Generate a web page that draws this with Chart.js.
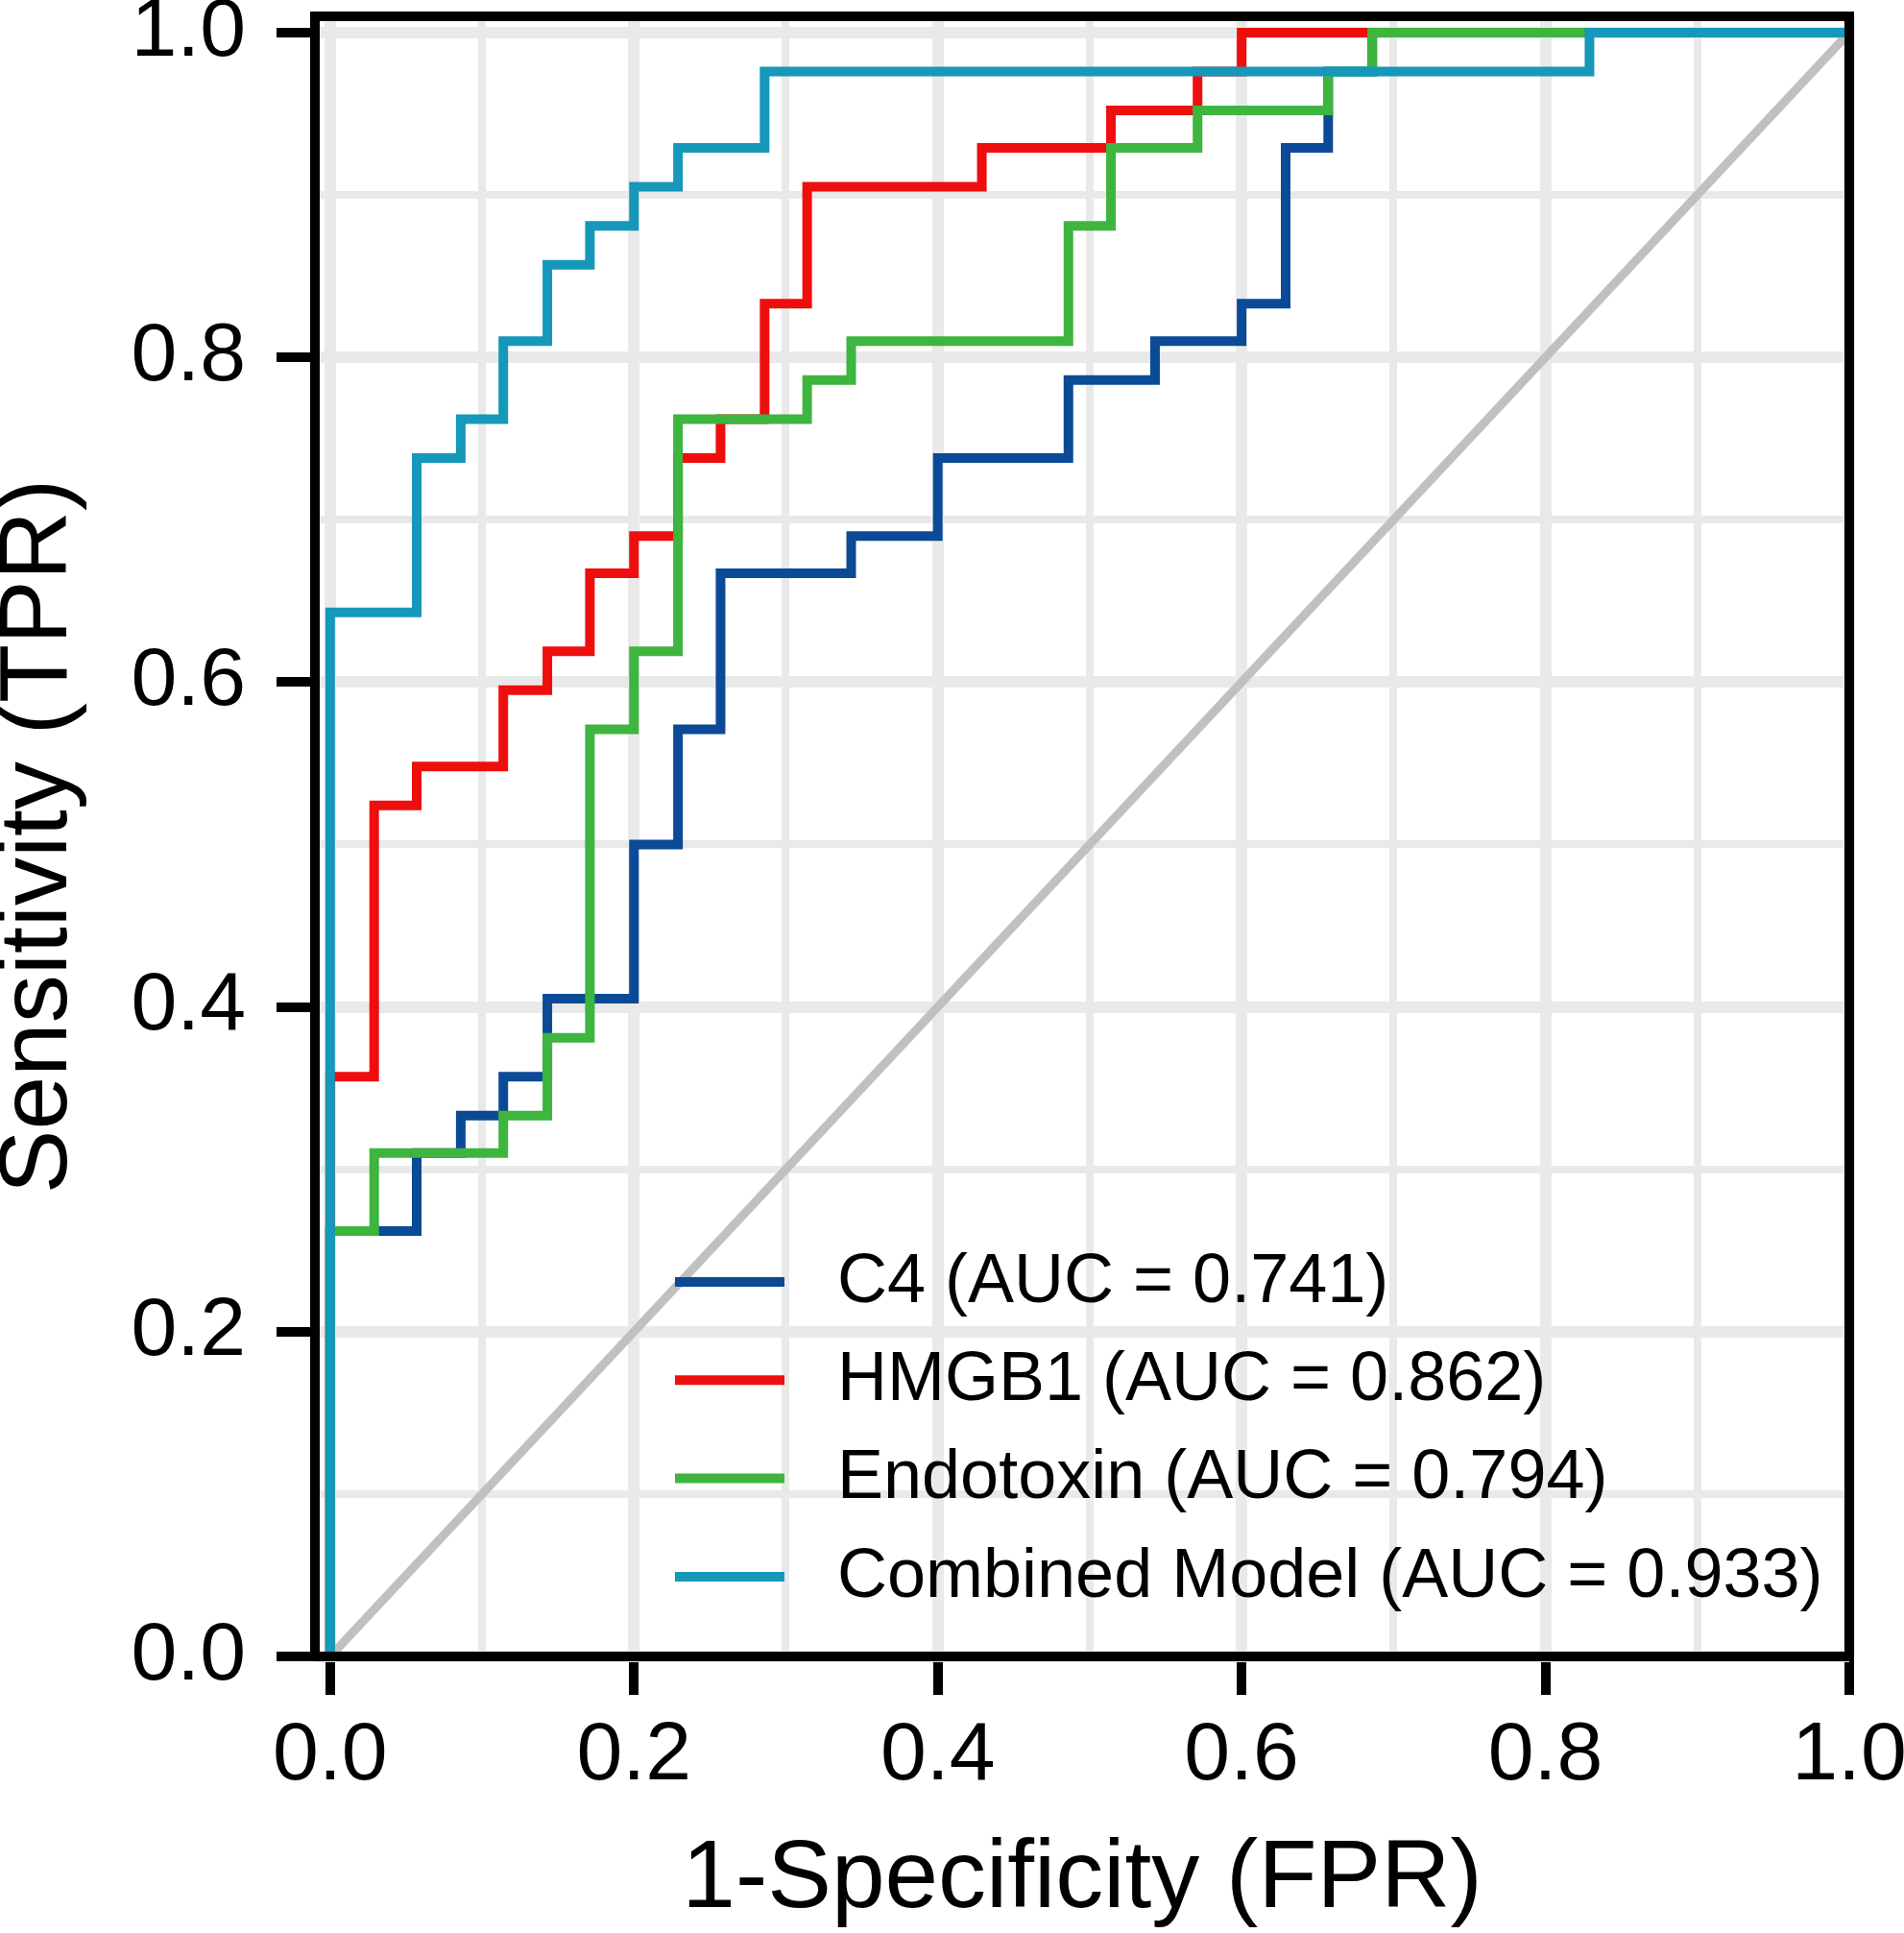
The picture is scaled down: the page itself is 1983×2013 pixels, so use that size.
<!DOCTYPE html>
<html>
<head>
<meta charset="utf-8">
<script src="https://cdn.jsdelivr.net/npm/chart.js@4.4.1/dist/chart.umd.min.js"></script>
<style>
  html, body { margin: 0; padding: 0; background: #ffffff; }
  canvas { display: block; }
</style>
</head>
<body>
<canvas id="roc" width="1983" height="2013"></canvas>
<script>
// ---- data ----
const seriesNames = ['C4 (AUC = 0.741)', 'HMGB1 (AUC = 0.862)', 'Endotoxin (AUC = 0.794)', 'Combined Model (AUC = 0.933)'];
const seriesColors = ['#0b4a96', '#ee0e0e', '#3eb53e', '#1598ba'];

// ROC corner points (step: horizontal, then vertical)
const fprC4 = [0, 0, 0.057, 0.086, 0.114, 0.143, 0.2, 0.229, 0.257, 0.343, 0.4, 0.486, 0.543, 0.6, 0.629, 0.657, 0.686, 1.0];
const tprC4 = [0, 0.262, 0.310, 0.333, 0.357, 0.405, 0.5, 0.571, 0.667, 0.690, 0.738, 0.786, 0.810, 0.833, 0.929, 0.976, 1.0, 1.0];

const fprHMGB1 = [0, 0, 0.029, 0.057, 0.114, 0.143, 0.171, 0.2, 0.229, 0.257, 0.286, 0.314, 0.429, 0.514, 0.571, 0.6, 1.0];
const tprHMGB1 = [0, 0.357, 0.524, 0.548, 0.595, 0.619, 0.667, 0.690, 0.738, 0.762, 0.833, 0.905, 0.929, 0.952, 0.976, 1.0, 1.0];

const fprEndo = [0, 0, 0.029, 0.114, 0.143, 0.171, 0.2, 0.229, 0.314, 0.343, 0.486, 0.514, 0.571, 0.657, 0.686, 1.0];
const tprEndo = [0, 0.262, 0.310, 0.333, 0.381, 0.571, 0.619, 0.762, 0.786, 0.810, 0.881, 0.929, 0.952, 0.976, 1.0, 1.0];

const fprComb = [0, 0, 0.057, 0.086, 0.114, 0.143, 0.171, 0.2, 0.229, 0.286, 0.829, 1.0];
const tprComb = [0, 0.643, 0.738, 0.762, 0.810, 0.857, 0.881, 0.905, 0.929, 0.976, 1.0, 1.0];

const diagX = [0, 1];
const diagY = [0, 1];

const gridValues = [0, 0.1, 0.2, 0.3, 0.4, 0.5, 0.6, 0.7, 0.8, 0.9, 1.0];
const labelValues = [0, 0.2, 0.4, 0.6, 0.8, 1.0];

// ---- helpers ----
const FONT = '"Liberation Sans", Arial, Helvetica, sans-serif';
Chart.defaults.font.family = FONT;
const toPts = (xs, ys) => xs.map((x, i) => ({ x: x, y: ys[i] }));
const isMajor = v => labelValues.some(l => Math.abs(l - v) < 1e-6);
const tickVal = ctx => (ctx && ctx.tick) ? ctx.tick.value : 0;

const series = [
  { x: fprC4, y: tprC4 },
  { x: fprHMGB1, y: tprHMGB1 },
  { x: fprEndo, y: tprEndo },
  { x: fprComb, y: tprComb }
];

const datasets = series.map((s, i) => ({
  label: seriesNames[i],
  data: toPts(s.x, s.y),
  showLine: true,
  stepped: 'before',
  borderColor: seriesColors[i],
  backgroundColor: seriesColors[i],
  borderWidth: 10,
  pointRadius: 0,
  fill: false,
  order: 4 - i
}));
datasets.push({
  label: 'chance',
  data: toPts(diagX, diagY),
  showLine: true,
  borderColor: 'rgb(192,192,192)',
  borderWidth: 9,
  pointRadius: 0,
  fill: false,
  order: 10
});

const gridCfg = {
  color: 'rgb(233,233,233)',
  lineWidth: ctx => isMajor(tickVal(ctx)) ? 12 : 8,
  drawTicks: true,
  tickLength: 40,
  tickWidth: 10,
  tickColor: ctx => isMajor(tickVal(ctx)) ? '#000000' : 'rgba(0,0,0,0)'
};

const boxPlugin = {
  id: 'frameBox',
  afterDatasetsDraw(chart) {
    const { ctx, chartArea: a } = chart;
    ctx.save();
    ctx.strokeStyle = '#000000';
    ctx.lineWidth = 10;
    ctx.lineJoin = 'miter';
    ctx.strokeRect(a.left, a.top, a.right - a.left, a.bottom - a.top);
    ctx.restore();
  }
};

const legendPlugin = {
  id: 'rocLegend',
  afterDraw(chart) {
    const { ctx, chartArea: a } = chart;
    ctx.save();
    ctx.font = '72px ' + FONT;
    ctx.textBaseline = 'middle';
    ctx.textAlign = 'left';
    seriesNames.forEach((name, i) => {
      const y = a.top + 1318 + i * 102.3;
      ctx.strokeStyle = seriesColors[i];
      ctx.lineWidth = 10;
      ctx.lineCap = 'butt';
      ctx.beginPath();
      ctx.moveTo(a.left + 375, y);
      ctx.lineTo(a.left + 489, y);
      ctx.stroke();
      ctx.fillStyle = '#000000';
      ctx.fillText(name, a.left + 544, y + 1);
    });
    ctx.restore();
  }
};

new Chart(document.getElementById('roc'), {
  type: 'scatter',
  data: { datasets: datasets },
  options: {
    responsive: false,
    animation: false,
    devicePixelRatio: 1,
    events: [],
    layout: { padding: { top: 17, right: 57, bottom: 0, left: 0 } },
    plugins: {
      legend: { display: false },
      tooltip: { enabled: false },
      title: { display: false }
    },
    scales: {
      x: {
        type: 'linear',
        min: -0.01,
        max: 1.0,
        afterBuildTicks: s => { s.ticks = gridValues.map(v => ({ value: v })); },
        afterFit: s => { s.height = 288; s.paddingLeft = 0; s.paddingRight = 0; },
        grid: gridCfg,
        border: { display: false },
        ticks: {
          autoSkip: false,
          maxRotation: 0,
          minRotation: 0,
          padding: 13,
          color: '#000000',
          font: { size: 86, lineHeight: 1.2 },
          callback: v => isMajor(v) ? Number(v).toFixed(1) : ''
        },
        title: {
          display: true,
          text: '1-Specificity (FPR)',
          color: '#000000',
          font: { size: 100, lineHeight: 1 },
          padding: { top: 0, bottom: 5 }
        }
      },
      y: {
        type: 'linear',
        min: 0,
        max: 1.01,
        afterBuildTicks: s => { s.ticks = gridValues.map(v => ({ value: v })); },
        afterFit: s => { s.width = 328; s.paddingTop = 0; s.paddingBottom = 0; },
        grid: gridCfg,
        border: { display: false },
        ticks: {
          autoSkip: false,
          padding: 32,
          color: '#000000',
          font: { size: 86, lineHeight: 1.2 },
          callback: v => isMajor(v) ? Number(v).toFixed(1) : ''
        },
        title: {
          display: true,
          text: 'Sensitivity (TPR)',
          color: '#000000',
          font: { size: 100, lineHeight: 0.82 },
          padding: { top: 0, bottom: 0 }
        }
      }
    }
  },
  plugins: [boxPlugin, legendPlugin]
});
</script>
</body>
</html>
